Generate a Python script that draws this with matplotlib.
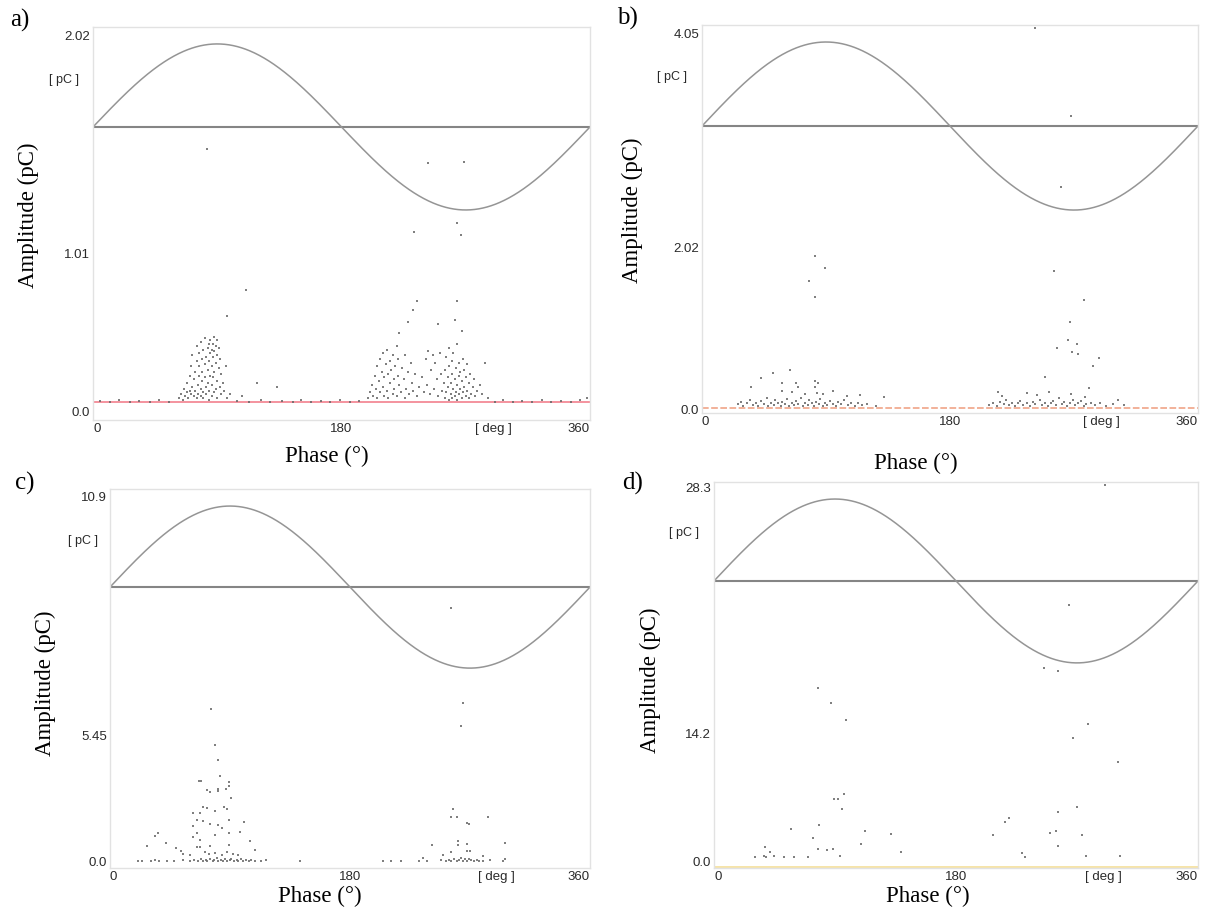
import numpy as np
import matplotlib.pyplot as plt

# ---------------------------------------------------------------------
# Data (phase in deg, amplitude in pC)
# ---------------------------------------------------------------------
A_POINTS = [
    # left cluster
    (62, 0.07), (64, 0.09), (65, 0.06), (66, 0.12), (67, 0.08), (68, 0.10), (68, 0.15), (69, 0.07),
    (70, 0.11), (70, 0.19), (71, 0.09), (71, 0.24), (72, 0.13), (72, 0.30), (73, 0.08), (73, 0.17),
    (74, 0.21), (74, 0.11), (75, 0.27), (75, 0.07), (75, 0.35), (76, 0.14), (76, 0.09), (77, 0.19),
    (77, 0.31), (77, 0.24), (78, 0.08), (78, 0.12), (78, 0.37), (79, 0.16), (79, 0.28), (79, 0.21),
    (80, 0.10), (80, 0.33), (80, 0.07), (81, 0.25), (81, 0.18), (81, 0.39), (82, 0.13), (82, 0.29),
    (82, 0.09), (83, 0.34), (83, 0.22), (83, 0.15), (84, 0.36), (84, 0.27), (84, 0.11), (84, 0.06),
    (85, 0.31), (85, 0.19), (85, 0.38), (86, 0.33), (86, 0.24), (86, 0.14), (86, 0.08), (87, 0.36),
    (87, 0.29), (87, 0.18), (88, 0.40), (88, 0.32), (88, 0.21), (88, 0.10), (89, 0.35), (89, 0.26),
    (89, 0.12), (90, 0.38), (90, 0.30), (90, 0.16), (90, 0.07), (91, 0.34), (91, 0.23), (92, 0.28),
    (92, 0.13), (93, 0.20), (93, 0.09), (94, 0.15), (95, 0.11), (96, 0.24), (97, 0.07), (97, 0.51),
    (99, 0.09), (108, 0.08), (111, 0.65), (119, 0.15), (133, 0.13), (82.6, 1.41),
    # right cluster
    (199, 0.07), (201, 0.10), (202, 0.14), (203, 0.08), (204, 0.19), (205, 0.12), (206, 0.24), (206, 0.07),
    (207, 0.16), (208, 0.28), (208, 0.10), (209, 0.21), (210, 0.13), (210, 0.31), (211, 0.08), (211, 0.18),
    (212, 0.25), (213, 0.11), (213, 0.33), (214, 0.20), (214, 0.07), (215, 0.15), (215, 0.27), (216, 0.22),
    (217, 0.09), (217, 0.30), (218, 0.17), (218, 0.12), (219, 0.24), (220, 0.35), (220, 0.08), (221, 0.19),
    (221, 0.28), (222, 0.42), (222, 0.14), (223, 0.10), (224, 0.23), (225, 0.17), (226, 0.30), (226, 0.07),
    (227, 0.12), (228, 0.48), (228, 0.21), (229, 0.09), (230, 0.26), (231, 0.15), (232, 0.54), (232, 0.11),
    (233, 0.20), (235, 0.59), (235, 0.08), (236, 0.13), (238, 0.18), (240, 0.10),
    (241, 0.28), (242, 0.14), (243, 0.32), (244, 0.09), (245, 0.22), (246, 0.30), (247, 0.12), (248, 0.26),
    (249, 0.17), (250, 0.47), (250, 0.08), (251, 0.31), (252, 0.20), (253, 0.11),
    (254, 0.15), (255, 0.07), (255, 0.22), (256, 0.10), (256, 0.29), (257, 0.13), (257, 0.18), (258, 0.06),
    (258, 0.24), (258, 0.34), (259, 0.09), (259, 0.15), (260, 0.20), (260, 0.27), (260, 0.07), (261, 0.12),
    (261, 0.31), (262, 0.49), (262, 0.17), (262, 0.08), (263, 0.23), (263, 0.10), (263.6, 0.59), (264, 0.14),
    (264, 0.36), (264, 0.06), (265, 0.19), (265, 0.26), (265, 0.09), (266, 0.12), (266, 0.21), (267, 0.43),
    (267, 0.07), (267, 0.16), (268, 0.28), (268, 0.10), (269, 0.13), (269, 0.22), (270, 0.08), (270, 0.18),
    (271, 0.25), (271, 0.11), (272, 0.07), (272, 0.15), (273, 0.20), (274, 0.09), (275, 0.13), (276, 0.17),
    (277, 0.08), (278, 0.11), (280, 0.14), (282, 0.09), (284, 0.26), (286, 0.07),
    (243, 1.33), (269, 1.34), (232.5, 0.96), (263.6, 1.01), (266.5, 0.945),
    # noise along the threshold line
    (5, 0.055), (12, 0.05), (19, 0.06), (27, 0.05), (33, 0.055), (41, 0.05), (48, 0.06), (55, 0.05),
    (104, 0.055), (113, 0.05), (122, 0.06), (128, 0.05), (137, 0.055), (145, 0.05), (151, 0.06),
    (158, 0.05), (165, 0.055), (172, 0.05), (179, 0.06), (186, 0.05), (193, 0.055), (291, 0.05),
    (297, 0.06), (304, 0.05), (311, 0.055), (318, 0.05), (325, 0.06), (332, 0.05), (339, 0.055),
    (346, 0.05), (353, 0.06), (358, 0.07),
]

B_POINTS = [
    (82, 1.65), (89.3, 1.52), (77.7, 1.38), (82, 1.21),
    (255.5, 1.49), (277, 1.17), (267, 0.94), (265.6, 0.74), (258, 0.66), (268.5, 0.61), (273, 0.59),
    (272, 0.70), (288, 0.55), (284, 0.46), (249, 0.34), (281, 0.23),
    (241.7, 4.10), (267.8, 3.16), (260.6, 2.39),
    # left cluster
    (35.6, 0.24), (42.8, 0.33), (51.5, 0.39), (63.9, 0.42), (58, 0.28), (68, 0.28), (69.7, 0.24),
    (82, 0.24), (82, 0.30), (84, 0.28), (58, 0.19), (65, 0.18), (74.8, 0.16), (83.5, 0.17), (88, 0.16),
    (95, 0.19), (105, 0.14), (114.7, 0.15), (132, 0.13),
    (26, 0.05), (28, 0.08), (30, 0.03), (33, 0.06), (35, 0.10), (37, 0.04), (39, 0.07), (41, 0.03),
    (43, 0.09), (45, 0.05), (47, 0.12), (48, 0.03), (50, 0.07), (52, 0.04), (53, 0.10), (55, 0.06),
    (57, 0.03), (58, 0.08), (60, 0.05), (62, 0.11), (63, 0.03), (65, 0.07), (67, 0.04), (68, 0.09),
    (70, 0.05), (72, 0.12), (73, 0.03), (75, 0.07), (77, 0.04), (78, 0.10), (80, 0.06), (81, 0.03),
    (83, 0.08), (85, 0.05), (86, 0.11), (88, 0.03), (89, 0.07), (91, 0.04), (93, 0.09), (95, 0.05),
    (97, 0.03), (99, 0.08), (101, 0.05), (103, 0.10), (106, 0.04), (108, 0.07), (111, 0.03),
    (113, 0.06), (116, 0.04), (120, 0.05), (126, 0.03),
    # right cluster
    (215, 0.18), (217.7, 0.14), (236, 0.17), (243, 0.15), (252, 0.18), (268, 0.16), (278, 0.13), (302, 0.10),
    (208, 0.04), (211, 0.06), (214, 0.03), (216, 0.08), (219, 0.05), (221, 0.10), (223, 0.04),
    (225, 0.07), (227, 0.03), (229, 0.06), (231, 0.09), (233, 0.04), (236, 0.06), (238, 0.03),
    (240, 0.08), (242, 0.05), (245, 0.10), (247, 0.04), (249, 0.07), (251, 0.03), (253, 0.06),
    (255, 0.09), (257, 0.04), (259, 0.12), (261, 0.05), (263, 0.08), (265, 0.03), (267, 0.07),
    (269, 0.10), (271, 0.04), (273, 0.06), (275, 0.09), (277, 0.03), (279, 0.05), (282, 0.07),
    (285, 0.04), (289, 0.06), (293, 0.03), (298, 0.05), (306, 0.04),
]

C_POINTS = [
    (75.8, 4.57), (78.5, 3.49), (81, 3.05), (82.5, 2.57), (66.8, 2.42), (68.3, 2.42), (89.3, 2.39),
    (89.3, 2.27), (72.8, 2.15), (75, 2.10), (81.3, 2.18), (81.3, 2.12), (87, 2.18), (90.8, 1.91),
    (62, 1.46), (67.5, 1.46), (69.8, 1.64), (72.5, 1.60), (78.8, 1.52), (85.5, 1.64), (87.5, 1.57),
    (65, 1.25), (69.8, 1.22), (75, 1.13), (81, 1.10), (83.8, 1.02), (89.3, 1.25), (100.5, 1.19),
    (62, 1.07), (65, 0.86), (78.8, 0.81), (89.3, 0.86), (97.5, 0.91), (105, 0.64), (62, 0.75),
    (67.5, 0.66), (65, 0.46), (67.5, 0.46), (75, 0.48), (89.3, 0.50), (33.8, 0.78), (36, 0.86),
    (27.5, 0.49), (41.8, 0.58), (49.5, 0.42), (54.5, 0.24), (60, 0.21), (53, 0.33), (108.8, 0.36),
    (71, 0.30), (74, 0.25), (79, 0.28), (84, 0.22), (88, 0.30), (92, 0.24), (96, 0.20),
    # bottom row
    (21, 0.03), (24, 0.03), (31, 0.03), (34, 0.05), (37, 0.03), (43, 0.03), (48, 0.03), (55, 0.05),
    (60, 0.03), (63, 0.06), (66, 0.03), (68, 0.10), (70, 0.04), (72, 0.07), (73, 0.03), (75, 0.09),
    (77, 0.04), (78, 0.05), (80, 0.12), (81, 0.03), (83, 0.06), (85, 0.04), (86, 0.09), (88, 0.03),
    (90, 0.05), (91, 0.10), (93, 0.03), (95, 0.06), (96, 0.03), (98, 0.08), (100, 0.03), (102, 0.05),
    (104, 0.03), (106, 0.06), (109, 0.03), (113, 0.03), (117, 0.05), (142.5, 0.03),
    (205, 0.03), (211, 0.03), (218, 0.03),
    # right cluster
    (264.5, 4.74), (263, 4.07), (256, 7.58), (257, 1.58), (256, 1.34), (260, 1.34), (267.5, 1.17),
    (269, 1.14), (283.5, 1.34), (261, 0.64), (261, 0.52), (267.5, 0.55), (267.5, 0.33), (270, 0.33),
    (256, 0.30), (250, 0.21), (280, 0.18), (296, 0.58), (241.5, 0.52), (235, 0.12), (296, 0.08),
    (232, 0.03), (238, 0.03), (248, 0.05), (252, 0.03), (254, 0.07), (256, 0.04), (258, 0.10),
    (260, 0.03), (262, 0.06), (263, 0.12), (265, 0.04), (266, 0.08), (268, 0.03), (269, 0.10),
    (271, 0.05), (273, 0.03), (275, 0.07), (277, 0.04), (280, 0.03), (285, 0.05), (295, 0.03),
]

D_POINTS = [
    (86.8, 11.98), (98, 10.67), (77.4, 13.09), (96.7, 5.09), (92.2, 4.69), (89.3, 4.69), (95.2, 3.93),
    (78, 2.72), (57.3, 2.42), (74, 1.74), (112.3, 2.27), (109, 1.29), (131.6, 2.04), (139, 0.71),
    (77, 0.91), (83.8, 0.83), (88.3, 0.91), (93.7, 0.38), (38, 1.06), (37, 0.38), (39, 0.30),
    (41.7, 0.68), (44.6, 0.38), (30.5, 0.30), (52, 0.30), (59.2, 0.30), (70, 0.30),
    (278, 10.37), (266.8, 9.30), (300.8, 7.49), (269.8, 4.11), (255.9, 3.74), (254.4, 2.30),
    (250, 2.15), (274, 1.97), (255.9, 1.16), (276.7, 0.38), (302, 0.38), (219.4, 3.25),
    (216.5, 2.95), (207.5, 1.97), (228.8, 0.60), (231, 0.30),
    (290.8, 28.45), (264, 19.37), (245.5, 14.63), (255.9, 14.38),
]

PANEL_TAGS = ["a)", "b)", "c)", "d)"]
Y_TICK_LABELS = [["0.0", "1.01", "2.02"], ["0.0", "2.02", "4.05"],
                 ["0.0", "5.45", "10.9"], ["0.0", "14.2", "28.3"]]
TOP_VALUES = [2.02, 4.05, 10.9, 28.3]
# reference sine (offset, amplitude) in pC
SINE_MID = [1.526, 3.048, 8.21, 21.19]
SINE_AMP = [0.446, 0.905, 2.42, 6.20]
# threshold line level in pC
THRESH = [0.047, 0.011, None, -0.45]
X_TICKS = [0, 180, 290, 360]
X_TICK_LABELS = ["0", "180", "[ deg ]", "360"]

# ---------------------------------------------------------------------
# Layout in screenshot pixels
# ---------------------------------------------------------------------
W, H = 1210, 911
FRAMES = [(93, 27, 590, 420), (702, 25, 1198, 413), (110, 489, 590, 868), (714, 482, 1198, 868)]
ZERO_PX = [411, 409, 862, 861]
TOP_PX = [35, 33, 497, 487]
MID_PX = [253, 248, 736, 734]
TAG_POS = [(10, 20), (617, 18), (15, 483), (622, 483)]
PC_POS = [(64, 80), (672, 77), (83, 541), (684, 533)]
YLAB_POS = [(28, 215), (632, 210), (45, 683), (650, 680)]
XLAB_POS = [(327, 456), (916, 463), (320, 896), (928, 896)]
THRESH_COLORS = ["#f2808e", "#f0a488", None, "#f5df98"]

SERIF = ["Liberation Serif", "DejaVu Serif"]
SANS = ["Liberation Sans", "DejaVu Sans"]

fig = plt.figure(figsize=(W / 100, H / 100), dpi=100)
fig.patch.set_facecolor("white")

phase = np.linspace(0, 360, 721)
all_points = [A_POINTS, B_POINTS, C_POINTS, D_POINTS]

for i, pts in enumerate(all_points):
    x0, y0, x1, y1 = FRAMES[i]
    ax = fig.add_axes([x0 / W, 1 - y1 / H, (x1 - x0) / W, (y1 - y0) / H])
    scale = TOP_VALUES[i] / (ZERO_PX[i] - TOP_PX[i])  # pC per pixel
    ax.set_xlim(0, 360)
    ax.set_ylim(-(y1 - ZERO_PX[i]) * scale, (ZERO_PX[i] - y0) * scale)

    # sine reference + zero line of the voltage
    ax.axhline(SINE_MID[i], color="#858585", lw=1.5, zorder=2)
    ax.plot(phase, SINE_MID[i] + SINE_AMP[i] * np.sin(np.deg2rad(phase)),
            color="#959595", lw=1.1, zorder=2)

    if THRESH[i] is not None:
        ls = "-" if i != 1 else (0, (4, 1.5))
        ax.axhline(THRESH[i], color=THRESH_COLORS[i], lw=1.2, ls=ls, zorder=1)

    arr = np.array(pts)
    ax.scatter(arr[:, 0], arr[:, 1], s=3.2, marker="s", color="#6a6a6a",
               linewidths=0, alpha=0.85, zorder=3)

    # ticks
    mid_val = (ZERO_PX[i] - MID_PX[i]) * scale
    ax.set_yticks([0, mid_val, TOP_VALUES[i]])
    ax.set_yticklabels(Y_TICK_LABELS[i], family=SANS, fontsize=9.5, color="#2a2a2a")
    ax.set_xticks(X_TICKS)
    ax.set_xticklabels(X_TICK_LABELS, family=SANS, fontsize=9.5, color="#2a2a2a")
    xl = ax.get_xticklabels()
    xl[0].set_ha("left")
    xl[-1].set_ha("right")
    ax.tick_params(length=0, pad=2)

    for sp in ax.spines.values():
        sp.set_color("#e2e2e2")
        sp.set_linewidth(1.0)

    # texts around the plot
    fig.text(TAG_POS[i][0] / W, 1 - TAG_POS[i][1] / H, PANEL_TAGS[i], family=SERIF,
             fontsize=18, ha="left", va="center")
    fig.text(PC_POS[i][0] / W, 1 - PC_POS[i][1] / H, "[ pC ]", family=SANS,
             fontsize=9, ha="center", va="center", color="#2a2a2a")
    fig.text(YLAB_POS[i][0] / W, 1 - YLAB_POS[i][1] / H, "Amplitude (pC)", family=SERIF,
             fontsize=16.5, rotation=90, ha="center", va="center")
    fig.text(XLAB_POS[i][0] / W, 1 - XLAB_POS[i][1] / H, "Phase (°)", family=SERIF,
             fontsize=16.5, ha="center", va="center")

fig.savefig("out.png", dpi=100)
